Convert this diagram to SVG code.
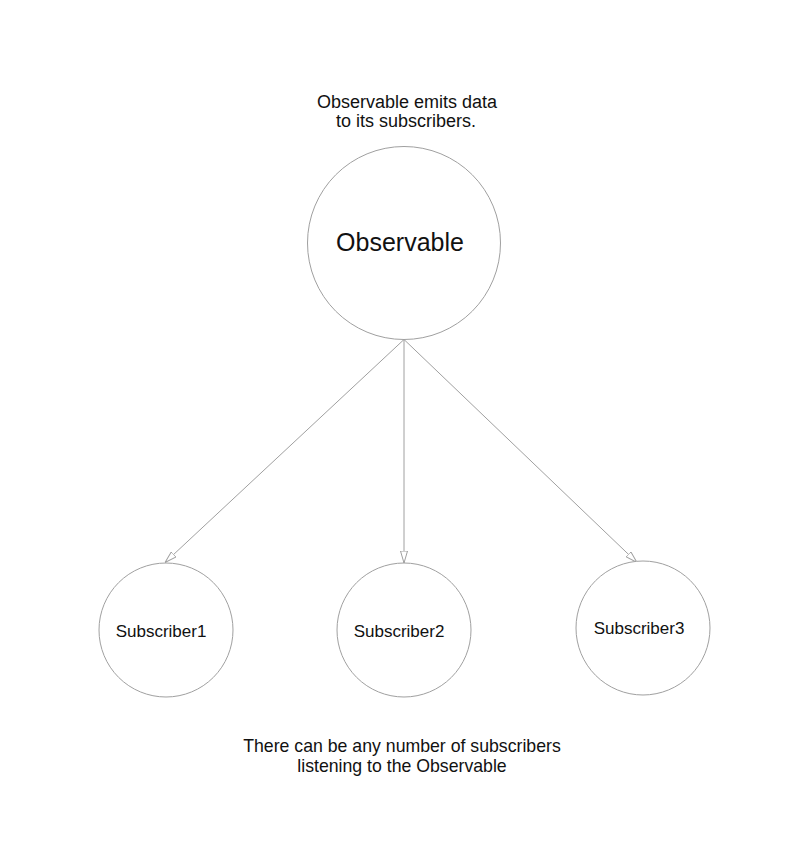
<svg xmlns="http://www.w3.org/2000/svg" width="800" height="852" viewBox="0 0 800 852">
<style>
.node{fill:#fff;stroke:#a0a0a0;stroke-width:1}
.lbl{font-family:"Liberation Sans",Arial,sans-serif;fill:#111;text-anchor:middle}
.edge{stroke:#a0a0a0;stroke-width:1;fill:none;marker-end:url(#arr)}
</style>
<defs>
<marker id="arr" viewBox="0 0 12 8" refX="12" refY="4" markerWidth="12" markerHeight="8" markerUnits="userSpaceOnUse" orient="auto">
<path d="M0,0.5 L12,4 L0,7.5 Z" fill="#fff" stroke="#a0a0a0" stroke-width="1"/>
</marker>
</defs>
<rect width="800" height="852" fill="#fff"/>
<text class="lbl" x="407" y="108" font-size="18">Observable emits data</text>
<text class="lbl" x="406" y="127" font-size="18">to its subscribers.</text>
<g id="connectors">
<line class="edge" x1="404" y1="339.5" x2="165" y2="562.5"/>
<line class="edge" x1="404" y1="339.5" x2="404" y2="563"/>
<line class="edge" x1="404" y1="339.5" x2="637" y2="562.5"/>
</g>
<g id="observable">
<circle class="node" cx="404" cy="243" r="96.5"/>
<text class="lbl" x="400" y="251" font-size="25">Observable</text>
</g>
<g id="subscriber1">
<circle class="node" cx="166" cy="630" r="67"/>
<text class="lbl" x="161" y="637" font-size="17">Subscriber1</text>
</g>
<g id="subscriber2">
<circle class="node" cx="404" cy="630" r="67"/>
<text class="lbl" x="399" y="637" font-size="17">Subscriber2</text>
</g>
<g id="subscriber3">
<circle class="node" cx="643" cy="628" r="67"/>
<text class="lbl" x="639" y="634" font-size="17">Subscriber3</text>
</g>
<text class="lbl" x="402" y="752" font-size="17.7">There can be any number of subscribers</text>
<text class="lbl" x="402" y="772" font-size="17.7">listening to the Observable</text>
</svg>
